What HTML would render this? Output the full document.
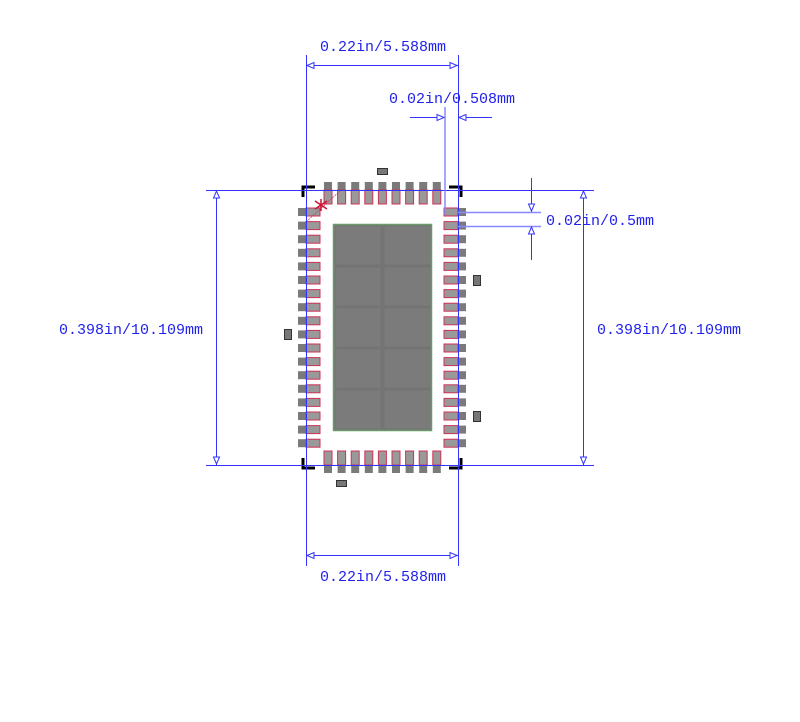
<!DOCTYPE html>
<html><head><meta charset="utf-8"><style>
html,body{margin:0;padding:0;background:#fff;width:800px;height:722px;overflow:hidden}
text{font-family:"Liberation Mono",monospace;font-size:15px;fill:#2222ee}
</style></head><body>
<svg width="800" height="722" viewBox="0 0 800 722" xmlns="http://www.w3.org/2000/svg">
<defs>
<g id="pv"><rect x="-4" y="-8" width="8" height="22" fill="#7a7a7a"/><rect x="-4" y="0" width="8" height="14" fill="#999" stroke="#cc3355" stroke-width="1"/></g>
<g id="pvb"><rect x="-4" y="-14" width="8" height="22" fill="#7a7a7a"/><rect x="-4" y="-14" width="8" height="14" fill="#999" stroke="#cc3355" stroke-width="1"/></g>
<g id="ph"><rect x="-8" y="-4" width="22" height="8" fill="#7a7a7a"/><rect x="0" y="-4" width="14" height="8" fill="#999" stroke="#cc3355" stroke-width="1"/></g>
<g id="phr"><rect x="-14" y="-4" width="22" height="8" fill="#7a7a7a"/><rect x="-14" y="-4" width="14" height="8" fill="#999" stroke="#cc3355" stroke-width="1"/></g>
</defs>
<!-- center pad -->
<rect x="333.5" y="224.5" width="98" height="206" fill="#747474" stroke="#6a9a6a" stroke-width="1.5"/>
<g fill="#7b7b7b" stroke="#808080" stroke-width="0.5">
<rect x="336" y="227" width="44" height="37"/><rect x="385" y="227" width="45" height="37"/>
<rect x="336" y="268" width="44" height="37"/><rect x="385" y="268" width="45" height="37"/>
<rect x="336" y="309" width="44" height="37"/><rect x="385" y="309" width="45" height="37"/>
<rect x="336" y="350" width="44" height="37"/><rect x="385" y="350" width="45" height="37"/>
<rect x="336" y="391" width="44" height="37"/><rect x="385" y="391" width="45" height="37"/>
</g>
<!-- top pads -->
<g transform="translate(0,190)">
<use href="#pv" x="328"/><use href="#pv" x="341.6"/><use href="#pv" x="355.2"/><use href="#pv" x="368.8"/><use href="#pv" x="382.4"/><use href="#pv" x="396"/><use href="#pv" x="409.6"/><use href="#pv" x="423.2"/><use href="#pv" x="436.8"/>
</g>
<g transform="translate(0,465)">
<use href="#pvb" x="328"/><use href="#pvb" x="341.6"/><use href="#pvb" x="355.2"/><use href="#pvb" x="368.8"/><use href="#pvb" x="382.4"/><use href="#pvb" x="396"/><use href="#pvb" x="409.6"/><use href="#pvb" x="423.2"/><use href="#pvb" x="436.8"/>
</g>
<g transform="translate(306,0)">
<use href="#ph" y="212"/><use href="#ph" y="225.6"/><use href="#ph" y="239.2"/><use href="#ph" y="252.8"/><use href="#ph" y="266.4"/><use href="#ph" y="280"/><use href="#ph" y="293.6"/><use href="#ph" y="307.2"/><use href="#ph" y="320.8"/><use href="#ph" y="334.4"/><use href="#ph" y="348"/><use href="#ph" y="361.6"/><use href="#ph" y="375.2"/><use href="#ph" y="388.8"/><use href="#ph" y="402.4"/><use href="#ph" y="416"/><use href="#ph" y="429.6"/><use href="#ph" y="443.2"/>
</g>
<g transform="translate(458,0)">
<use href="#phr" y="212"/><use href="#phr" y="225.6"/><use href="#phr" y="239.2"/><use href="#phr" y="252.8"/><use href="#phr" y="266.4"/><use href="#phr" y="280"/><use href="#phr" y="293.6"/><use href="#phr" y="307.2"/><use href="#phr" y="320.8"/><use href="#phr" y="334.4"/><use href="#phr" y="348"/><use href="#phr" y="361.6"/><use href="#phr" y="375.2"/><use href="#phr" y="388.8"/><use href="#phr" y="402.4"/><use href="#phr" y="416"/><use href="#phr" y="429.6"/><use href="#phr" y="443.2"/>
</g>
<!-- small parts -->
<g fill="#777" stroke="#333" stroke-width="1">
<rect x="377.5" y="168.5" width="10" height="6"/>
<rect x="473.5" y="275.5" width="7" height="10"/>
<rect x="284.5" y="329.5" width="7" height="10"/>
<rect x="473.5" y="411.5" width="7" height="10"/>
<rect x="336.5" y="480.5" width="10" height="6"/>
</g>
<!-- pin1 marker -->
<g stroke="#cc1133" stroke-width="1.5"><line x1="315" y1="201" x2="327" y2="209"/><line x1="321" y1="199" x2="321" y2="211"/><line x1="315" y1="209" x2="327" y2="201"/></g>
<line x1="306" y1="222" x2="341" y2="190" stroke="#cc3355" stroke-width="0.7" stroke-dasharray="2,1"/>
<!-- corner brackets -->
<g stroke="#000" stroke-width="3" fill="none">
<polyline points="315,187 303,187 303,197"/><polyline points="449,187 461,187 461,197"/>
<polyline points="303,458 303,468 315,468"/><polyline points="461,458 461,468 449,468"/>
</g>
<!-- outline / dims -->
<g stroke="#3333ff" stroke-width="1" fill="none">
<line x1="306.5" y1="55" x2="306.5" y2="566"/>
<line x1="458.5" y1="55" x2="458.5" y2="566"/>
<line x1="206" y1="190.5" x2="594" y2="190.5"/>
<line x1="206" y1="465.5" x2="594" y2="465.5"/>
<line x1="306" y1="65.5" x2="458" y2="65.5"/>
<line x1="306" y1="555.5" x2="458" y2="555.5"/>
<line x1="216.5" y1="190" x2="216.5" y2="465"/>
<line x1="583.5" y1="190" x2="583.5" y2="465"/>
<line x1="410" y1="117.5" x2="445" y2="117.5"/>
<line x1="458" y1="117.5" x2="492" y2="117.5"/>
<line x1="531.5" y1="178" x2="531.5" y2="212"/>
<line x1="531.5" y1="226" x2="531.5" y2="260"/>
</g>
<g stroke="#8888ff" stroke-width="1.5" fill="none">
<line x1="445" y1="107" x2="445" y2="215"/>
<line x1="458" y1="212.5" x2="541" y2="212.5"/>
<line x1="458" y1="226.5" x2="541" y2="226.5"/>
</g>
<g stroke="#3333ff" stroke-width="1" fill="#fff">
<polygon points="307,65.5 314,62.5 314,68.5"/><polygon points="457,65.5 450,62.5 450,68.5"/>
<polygon points="307,555.5 314,552.5 314,558.5"/><polygon points="457,555.5 450,552.5 450,558.5"/>
<polygon points="216.5,191 213.5,198 219.5,198"/><polygon points="216.5,464 213.5,457 219.5,457"/>
<polygon points="583.5,191 580.5,198 586.5,198"/><polygon points="583.5,464 580.5,457 586.5,457"/>
<polygon points="444,117.5 437,114.5 437,120.5"/><polygon points="459,117.5 466,114.5 466,120.5"/>
<polygon points="531.5,211 528.5,204 534.5,204"/><polygon points="531.5,227 528.5,234 534.5,234"/>
</g>
<text x="320" y="51" textLength="126">0.22in/5.588mm</text>
<text x="389" y="103" textLength="126">0.02in/0.508mm</text>
<text x="546" y="225" textLength="108">0.02in/0.5mm</text>
<text x="59" y="334" textLength="144">0.398in/10.109mm</text>
<text x="597" y="334" textLength="144">0.398in/10.109mm</text>
<text x="320" y="581" textLength="126">0.22in/5.588mm</text>
</svg>
</body></html>
